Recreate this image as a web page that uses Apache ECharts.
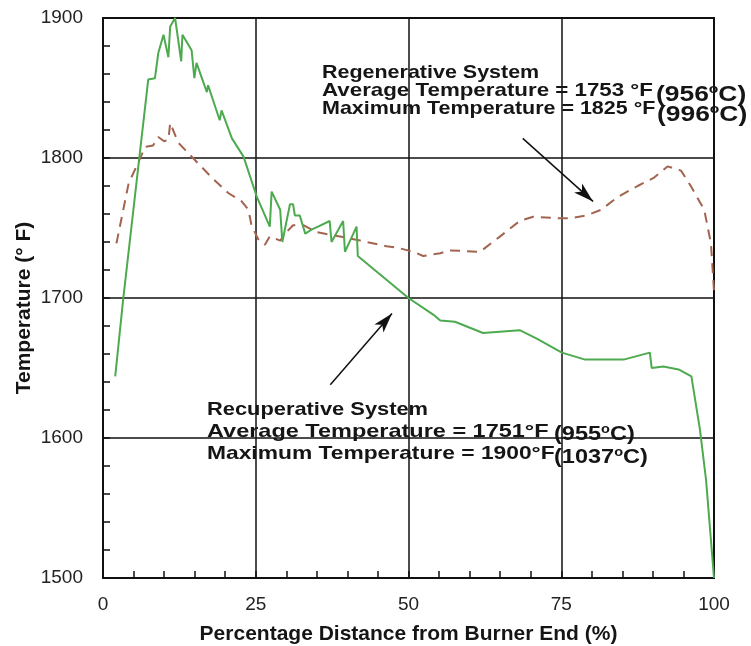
<!DOCTYPE html>
<html>
<head>
<meta charset="utf-8">
<script src="https://cdn.jsdelivr.net/npm/echarts@6/dist/echarts.min.js"></script>
<style>
  html, body { margin: 0; padding: 0; background: #ffffff; }
  #chart { width: 751px; height: 646px; }
</style>
</head>
<body>
<div id="chart"></div>
<script>
// Tube temperature profiles along the tube length
const xTicks = [0, 25, 50, 75, 100];
const yTicks = [1500, 1600, 1700, 1800, 1900];

// Recuperative system (solid green)
const recupX = [2.0, 3.3, 5.0, 7.4, 8.5, 9.05, 9.9, 10.7, 11.0, 11.8, 12.8, 13.0, 14.5, 14.95, 15.3, 17.0, 17.2, 19.1, 19.4, 21.1, 23.0, 25.2, 27.3, 27.6, 29.0, 29.35, 30.6, 31.1, 31.4, 32.2, 33.1, 34.2, 35.2, 37.1, 37.4, 39.3, 39.6, 41.5, 41.7, 50.0, 54.1, 55.2, 57.6, 62.2, 68.2, 71.0, 75.1, 78.9, 85.2, 89.5, 89.8, 91.7, 94.2, 96.3, 97.7, 98.7, 99.5, 100];
const recupT = [1644, 1699, 1764, 1856, 1857, 1875, 1888, 1872, 1894, 1900, 1869, 1888, 1877, 1857, 1868, 1847, 1852, 1827, 1834, 1814, 1801, 1772, 1751, 1776, 1763, 1740, 1767, 1767, 1759, 1759, 1746, 1749, 1751, 1755, 1740, 1755, 1733, 1751, 1730, 1700, 1688, 1684, 1683, 1675, 1677, 1671, 1661, 1656, 1656, 1661, 1650, 1651, 1649, 1644, 1606, 1570, 1527, 1500];

// Regenerative system (dashed brown)
const regenX = [2.2, 4.2, 5.8, 6.9, 8.2, 9.05, 10.0, 10.7, 11.0, 12.3, 13.4, 15.6, 17.8, 20.5, 22.7, 23.8, 24.3, 25.4, 26.5, 27.3, 29.0, 29.8, 31.1, 32.8, 35.0, 39.9, 42.1, 46.4, 48.1, 50.8, 52.4, 55.2, 56.8, 61.7, 65.0, 68.2, 70.4, 74.2, 76.4, 79.2, 81.5, 84.2, 87.5, 90.2, 92.4, 94.6, 96.2, 98.4, 99.5, 100];
const regenT = [1739, 1782, 1797, 1808, 1809, 1815, 1812, 1813, 1825, 1811, 1806, 1796, 1786, 1775, 1769, 1763, 1752, 1742, 1738, 1744, 1741, 1746, 1752, 1752, 1747, 1743, 1741, 1737, 1736, 1733, 1730, 1732, 1734, 1733, 1744, 1755, 1758, 1757, 1757, 1759, 1763, 1772, 1780, 1786, 1794, 1791, 1780, 1763, 1739, 1705];

// Pointer arrows (start, tip) in data space
const regenArrow = [[68.7, 1814], [80.2, 1769]];
const recupArrow = [[37.2, 1638], [47.3, 1689]];

const pair = (xs, ys) => xs.map((x, i) => [x, ys[i]]);

const FONT = '"Liberation Sans", Arial, Helvetica, sans-serif';
const INK = '#151515';

const chart = echarts.init(document.getElementById('chart'), null, { renderer: 'canvas' });

function noteLine(text, x, y, size, sx) {
  return {
    type: 'text', x: x, y: y, scaleX: sx, z: 100,
    style: {
      text: text, fill: INK, font: 'bold ' + size + 'px ' + FONT,
      verticalAlign: 'bottom', align: 'left'
    }
  };
}
function celsius(num, x, y, size, sx) {
  return {
    type: 'text', x: x, y: y, scaleX: sx, z: 100,
    style: {
      text: '{a|(' + num + '}{s|o}{a|C)}',
      verticalAlign: 'bottom', align: 'left',
      rich: {
        a: { fontFamily: FONT, fontWeight: 'bold', fontSize: size, fill: INK, lineHeight: size + 2 },
        s: { fontFamily: FONT, fontWeight: 'bold', fontSize: Math.round(size * 0.6), fill: INK, verticalAlign: 'top', lineHeight: size + 2 }
      }
    }
  };
}

const option = {
  backgroundColor: '#ffffff',
  animation: false,
  grid: {
    left: 103, right: 37, top: 18, bottom: 68,
    outerBoundsMode: 'none',
    show: true, borderColor: '#111', borderWidth: 2, backgroundColor: 'transparent'
  },
  xAxis: {
    type: 'value',
    min: xTicks[0], max: xTicks[xTicks.length - 1], interval: xTicks[1] - xTicks[0],
    name: 'Percentage Distance from Burner End (%)',
    nameLocation: 'middle', nameGap: 46,
    nameTextStyle: { fontFamily: FONT, fontWeight: 'bold', fontSize: 21, color: INK },
    axisLine: { show: true, onZero: false, lineStyle: { color: '#111', width: 2 } },
    axisTick: { show: true, inside: true, length: 7, lineStyle: { color: '#111', width: 1.5 } },
    minorTick: { show: true, splitNumber: 5, length: 7, lineStyle: { color: '#111', width: 1.5 } },
    splitLine: { show: true, lineStyle: { color: '#111', width: 1.5 } },
    axisLabel: { fontFamily: FONT, fontSize: 19, color: '#222', margin: 17, formatter: v => String(v) }
  },
  yAxis: {
    type: 'value',
    min: yTicks[0], max: yTicks[yTicks.length - 1], interval: yTicks[1] - yTicks[0],
    name: 'Temperature (° F)',
    nameLocation: 'middle', nameGap: 68, nameRotate: 90, nameMoveOverlap: false,
    nameTextStyle: { fontFamily: FONT, fontWeight: 'bold', fontSize: 21, color: INK, padding: [0, 20, 0, 0] },
    axisLine: { show: true, lineStyle: { color: '#111', width: 2 } },
    axisTick: { show: true, inside: true, length: 7, lineStyle: { color: '#111', width: 1.5 } },
    minorTick: { show: true, splitNumber: 5, length: 7, lineStyle: { color: '#111', width: 1.5 } },
    splitLine: { show: true, lineStyle: { color: '#111', width: 1.5 } },
    axisLabel: { fontFamily: FONT, fontSize: 19, color: '#222', margin: 20, formatter: v => String(v) }
  },
  series: [
    {
      name: 'Regenerative', type: 'line', data: pair(regenX, regenT),
      showSymbol: false, symbol: 'none', z: 3,
      lineStyle: { color: '#a3644f', width: 2, type: [10, 7] },
      markLine: {
        silent: true, symbol: ['none', 'arrow'], symbolSize: [9, 20], precision: 2,
        label: { show: false },
        lineStyle: { color: '#111', width: 1.5, type: 'solid' },
        data: [[{ coord: regenArrow[0] }, { coord: regenArrow[1] }]]
      }
    },
    {
      name: 'Recuperative', type: 'line', data: pair(recupX, recupT),
      showSymbol: false, symbol: 'none', z: 4,
      lineStyle: { color: '#4daa4f', width: 2 },
      markLine: {
        silent: true, symbol: ['none', 'arrow'], symbolSize: [9, 20], precision: 2,
        label: { show: false },
        lineStyle: { color: '#111', width: 1.5, type: 'solid' },
        data: [[{ coord: recupArrow[0] }, { coord: recupArrow[1] }]]
      }
    }
  ],
  graphic: [
    noteLine('Regenerative System', 322, 82, 19, 1.13),
    noteLine('Average Temperature = 1753 °F', 322, 100, 19, 1.175),
    celsius('956', 656, 107, 22, 1.2),
    noteLine('Maximum Temperature = 1825 °F', 322, 118, 19, 1.13),
    celsius('996', 657, 127, 22, 1.2),

    noteLine('Recuperative System', 207, 419, 19, 1.15),
    noteLine('Average Temperature = 1751°F', 207, 441, 19, 1.236),
    celsius('955', 554, 446, 21, 1.12),
    noteLine('Maximum Temperature = 1900°F', 207, 463, 19, 1.2),
    celsius('1037', 554, 469, 21, 1.12)
  ]
};

chart.setOption(option);
</script>
</body>
</html>
